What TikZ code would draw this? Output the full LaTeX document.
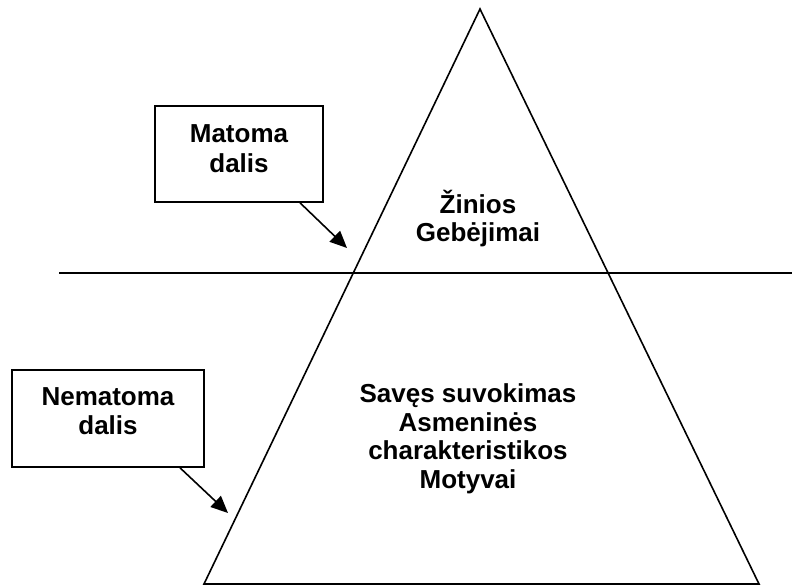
\documentclass[tikz,border=0pt]{standalone}
\usepackage{fontspec}
\setmainfont{Liberation Sans}
\usetikzlibrary{arrows.meta}
\begin{document}
\begin{tikzpicture}[x=1pt,y=-1pt,
  lw/.style={line width=1.6pt},
  box/.style={draw,lw,rectangle,inner sep=0pt},
  lbl/.style={font=\fontsize{26}{29.5}\selectfont\bfseries,align=center,inner sep=0pt},
  arr/.style={lw,-{Triangle[length=17pt,width=15pt]}}]
\useasboundingbox (0,0) rectangle (792,586);
% triangle
\coordinate (apex) at (480,9);
\coordinate (bl) at (204,584);
\coordinate (br) at (759,584);
\draw[lw,line join=miter] (bl) -- (apex) -- (br) -- cycle;
% horizontal line
\coordinate (hl) at (59,273);
\coordinate (hr) at (792,273);
\draw[lw] (hl) -- (hr);
% boxes
\node[box,minimum width=168pt,minimum height=96pt] (mbox) at (239,154) {};
\node[lbl] (mtext) at (239,148.5) {Matoma\\dalis};
\node[box,minimum width=192pt,minimum height=97pt] (nbox) at (108,418.5) {};
\node[lbl] (ntext) at (108,411) {Nematoma\\dalis};
% arrows
\coordinate (mtip) at (347,248);
\coordinate (ntip) at (228,513);
\draw[arr] ([xshift=61pt]mbox.south) -- (mtip);
\draw[arr] ([xshift=72pt]nbox.south) -- (ntip);
% triangle texts (anchor base = last line baseline)
\node[lbl,anchor=base,font=\fontsize{26}{28.5}\selectfont\bfseries] (upper) at (478,241.5) {Žinios\\Gebėjimai};
\node[lbl,anchor=base,font=\fontsize{26}{28.5}\selectfont\bfseries] (lower) at (468,488) {Savęs suvokimas\\Asmeninės\\charakteristikos\\Motyvai};
\end{tikzpicture}
\end{document}
